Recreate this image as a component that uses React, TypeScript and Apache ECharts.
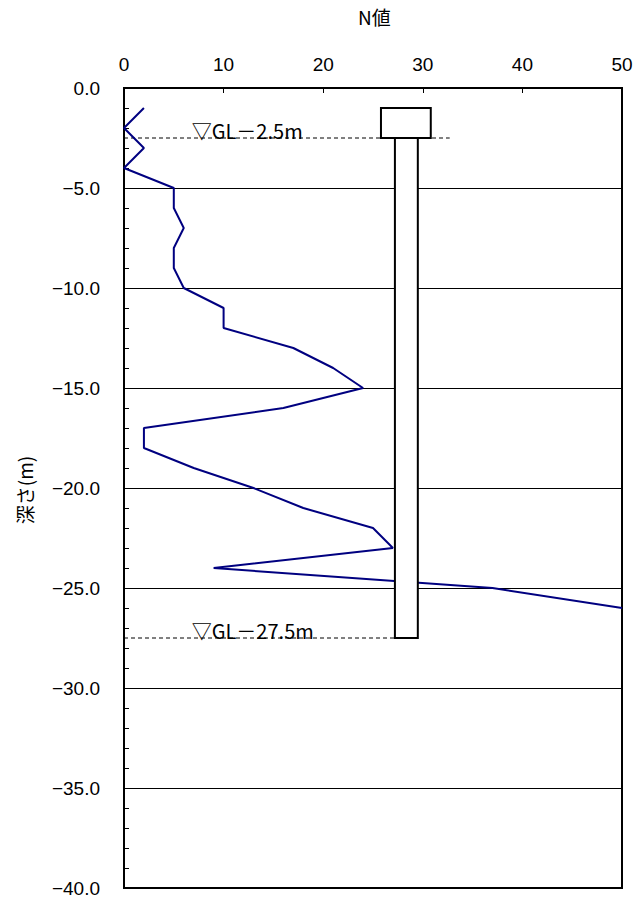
import React, { useEffect, useRef } from "react";
import * as echarts from "echarts";

const depths = [-1, -2, -3, -4, -5, -6, -7, -8, -9, -10, -11, -12, -13, -14, -15, -16, -17, -18, -19, -20, -21, -22, -23, -24, -25, -26];
const nValues = [2, 0, 2, 0, 5, 5, 6, 5, 5, 6, 10, 10, 17, 21, 24, 16, 2, 2, 7, 13, 18, 25, 27, 9, 37, 50];

// pile rectangles: [xLeft, yTop, xRight, yBottom]
const pileRects = [
  [25.8, -1, 30.8, -2.5],
  [27.2, -2.5, 29.5, -27.5],
];
// level dashed lines: [x1, y, x2]
const levelLines = [
  [0, -2.5, 32.7],
  [0, -27.5, 27.2],
];
const levelLabels = ["▽GL－2.5m", "▽GL－27.5m"];
const levelLabelX = 6.8;

const fmtY = (v: number) => (v < 0 ? "\u2212" + Math.abs(v).toFixed(1) : v.toFixed(1));

export default function App() {
  const ref = useRef<HTMLDivElement>(null);
  useEffect(() => {
    if (!ref.current) return;
    const chart = echarts.init(ref.current, null, { renderer: "svg" });
    const numFont = "'Liberation Sans', Arial, sans-serif";
    const jpFont = "'Noto Sans CJK JP', sans-serif";
    chart.setOption({
      animation: false,
      backgroundColor: "#fff",
      grid: {
        left: 124,
        top: 88,
        width: 498,
        height: 800,
        show: true,
        borderColor: "#000",
        borderWidth: 2,
        backgroundColor: "transparent",
      },
      xAxis: {
        type: "value",
        position: "top",
        min: 0,
        max: 50,
        interval: 10,
        axisLine: { show: true, lineStyle: { color: "#000", width: 2 } },
        axisTick: { show: true, inside: true, length: 5, lineStyle: { color: "#000" } },
        axisLabel: { color: "#000", fontSize: 19, fontFamily: numFont, margin: 14 },
        splitLine: { show: false },
      },
      yAxis: {
        type: "value",
        min: -40,
        max: 0,
        interval: 5,
        axisLine: { show: true, lineStyle: { color: "#000", width: 2 } },
        axisTick: { show: true, inside: true, length: 5, lineStyle: { color: "#000" } },
        minorTick: { show: true, splitNumber: 5, length: 5, lineStyle: { color: "#000" } },
        axisLabel: { color: "#000", fontSize: 19, fontFamily: numFont, margin: 24, formatter: fmtY },
        splitLine: { show: true, lineStyle: { color: "#000", width: 1 } },
      },
      graphic: [
        {
          type: "text",
          left: 358,
          top: 7,
          style: { text: "N値", fontSize: 19, fontFamily: jpFont, fill: "#000" },
        },
        {
          type: "text",
          x: 24,
          y: 490,
          rotation: Math.PI / 2,
          style: {
            text: "深さ(m)",
            fontSize: 19,
            fontFamily: jpFont,
            fill: "#000",
            textAlign: "center",
            textVerticalAlign: "middle",
          },
        },
      ],
      series: [
        {
          type: "line",
          data: depths.map((d, i) => [nValues[i], d]),
          symbol: "none",
          lineStyle: { color: "#000080", width: 2 },
          z: 2,
        },
        {
          type: "custom",
          z: 1,
          data: levelLines.map((l, i) => [l[0], l[1], l[2], i]),
          renderItem: (params: any, api: any) => {
            const p1 = api.coord([api.value(0), api.value(1)]);
            const p2 = api.coord([api.value(2), api.value(1)]);
            const idx = api.value(3);
            const tp = api.coord([levelLabelX, api.value(1)]);
            return {
              type: "group",
              children: [
                {
                  type: "line",
                  shape: { x1: p1[0], y1: p1[1], x2: p2[0], y2: p2[1] },
                  style: { stroke: "#000", lineWidth: 1, lineDash: [4, 3] },
                },
                {
                  type: "text",
                  x: tp[0],
                  y: tp[1] + 2,
                  style: {
                    text: levelLabels[idx],
                    fontSize: 20,
                    fontFamily: jpFont,
                    fill: "#000",
                    textAlign: "left",
                    textVerticalAlign: "bottom",
                  },
                },
              ],
            };
          },
        },
        {
          type: "custom",
          z: 5,
          data: pileRects,
          renderItem: (params: any, api: any) => {
            const a = api.coord([api.value(0), api.value(1)]);
            const b = api.coord([api.value(2), api.value(3)]);
            return {
              type: "rect",
              shape: { x: a[0], y: a[1], width: b[0] - a[0], height: b[1] - a[1] },
              style: { fill: "#fff", stroke: "#000", lineWidth: 2 },
            };
          },
        },
      ],
    });
    return () => chart.dispose();
  }, []);
  return (
    <div
      ref={ref}
      style={{ position: "absolute", left: 0, top: 0, width: 637, height: 902 }}
    />
  );
}
